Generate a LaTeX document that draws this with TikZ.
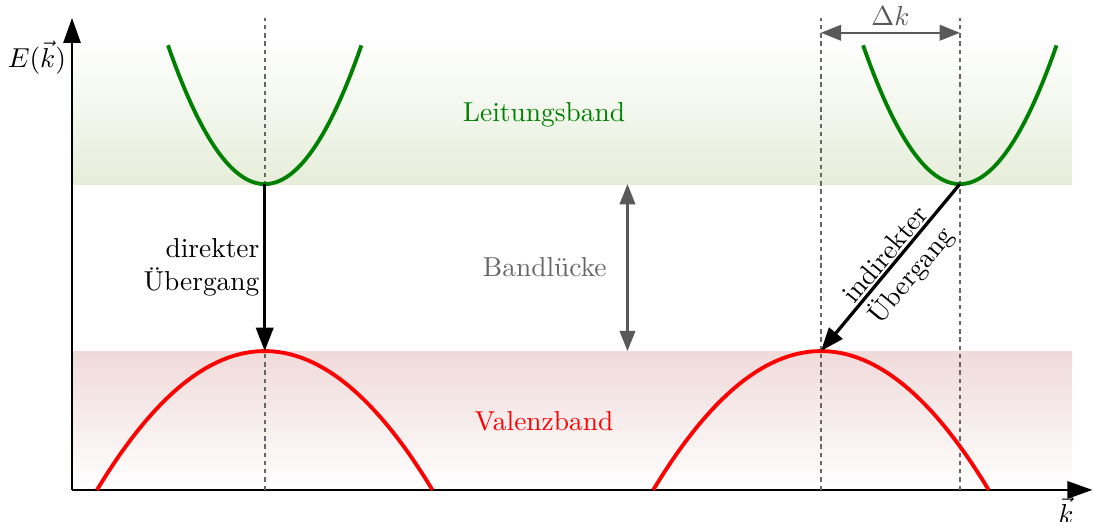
\documentclass[tikz,border=0pt]{standalone}
\usetikzlibrary{arrows.meta,calc}
\definecolor{condshade}{RGB}{230,238,218}
\definecolor{valshade}{RGB}{240,218,218}
\begin{document}
\begin{tikzpicture}[x=1cm,y=1cm,
    band/.style={line width=1.4pt, samples=60},
    guide/.style={black!60, dash pattern=on 1.6pt off 1.4pt, line width=0.6pt},
    jump/.style={black, very thick, -{Triangle[length=3mm,width=2.2mm]}},
    measure/.style={black!65, thick, {Triangle[length=2.6mm,width=2mm]}-{Triangle[length=2.6mm,width=2mm]}}]
  % Parameters for band diagram
  \def\vtop{1.78} % upper edge of valence band
  \def\cbot{3.92} % lower edge of conduction band
  \def\bandh{1.78} % height of the parabolas
  \def\cw{1.24} % half width of conduction parabola
  \def\vw{2.15} % half width of valence parabola
  \useasboundingbox (-0.923,-0.41) rectangle (13.10,6.28);

  % Extrema of the bands
  \coordinate (CL) at (2.47,\cbot); % conduction minimum, left
  \coordinate (VL) at (2.47,\vtop); % valence maximum, left
  \coordinate (CR) at (11.38,\cbot); % conduction minimum, right
  \coordinate (VR) at (9.60,\vtop); % valence maximum, right

  % Shaded bands
  \shade[top color=white, bottom color=condshade] (0,\cbot) rectangle (12.82,5.77);
  \shade[top color=valshade, bottom color=white] (0,0) rectangle (12.82,\vtop);

  % Axes
  \coordinate (O) at (0,0);
  \coordinate (Ey) at (0,6.05);
  \coordinate (Kx) at (13.08,0);
  \draw[thick, -{Triangle[length=3.2mm,width=2.2mm]}] (O) -- (Ey);
  \draw[thick, -{Triangle[length=3.2mm,width=2.2mm]}] (O) -- (Kx);
  \node (elabel) at (-0.45,5.54) {$E(\vec{k})$};
  \node (klabel) at (12.74,-0.26) {$\vec{k}$};

  % Vertical guides through the extrema
  \draw[guide] (2.47,0) -- (2.47,6.05);
  \draw[guide] (9.60,0) -- (9.60,6.05);
  \draw[guide] (11.38,0) -- (11.38,6.05);

  % Conduction band parabolas
  \draw[band, green!50!black, domain=-\cw:\cw] plot ({2.47+\x}, {\cbot+\bandh*(\x/\cw)^2});
  \draw[band, green!50!black, domain=-\cw:\cw] plot ({11.38+\x}, {\cbot+\bandh*(\x/\cw)^2});
  % Valence band parabolas
  \draw[band, red, domain=-\vw:\vw] plot ({2.47+\x}, {\vtop-\bandh*(\x/\vw)^2});
  \draw[band, red, domain=-\vw:\vw] plot ({9.60+\x}, {\vtop-\bandh*(\x/\vw)^2});

  % Transitions
  \draw[jump] (CL) -- (VL) node[midway, left=-2pt, align=right] {direkter\\\"Ubergang};
  \draw[jump] (CR) -- (VR);
  \node[rotate=50.2, align=center] (indirect) at ($(CR)!0.5!(VR)+(0.12,0.02)$) {indirekter\\\"Ubergang};

  % Band gap and momentum difference
  \coordinate (GB) at (7.12,\vtop);
  \coordinate (GT) at (7.12,\cbot);
  \draw[measure] (GB) -- (GT);
  \coordinate (DkL) at (9.60,5.86);
  \coordinate (DkR) at (11.38,5.86);
  \draw[measure] (DkL) -- (DkR) node[midway, above=-1pt, black!65] {$\Delta k$};

  % Band names
  \node[green!50!black] (cband) at (6.05,4.81) {Leitungsband};
  \node[black!60] (gap) at (6.06,2.85) {Bandl\"ucke};
  \node[red] (vband) at (6.05,0.88) {Valenzband};
\end{tikzpicture}
\end{document}
